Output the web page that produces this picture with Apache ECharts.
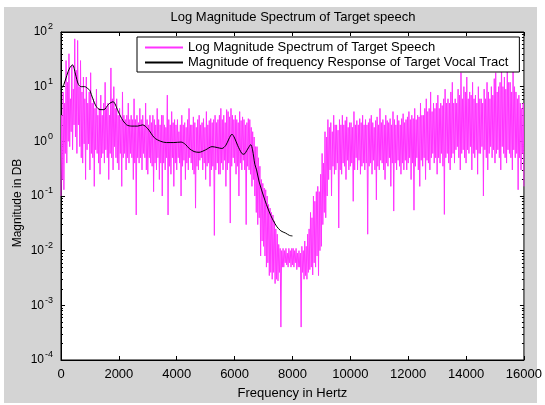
<!DOCTYPE html>
<html>
<head>
<meta charset="utf-8">
<title>Log Magnitude Spectrum of Target speech</title>
<script src="https://cdn.jsdelivr.net/npm/echarts@6/dist/echarts.min.js"></script>
<style>
    html, body { margin: 0; padding: 0; background: #fff; }
    #chart { width: 545px; height: 405px; }
</style>
</head>
<body>
<div id="chart"></div>
<script>
    var FREQ_STEP = 25;
    var spec0to4k = [
        0.1, 3, 0.2, 8, 0.13, 5, 0.6, 30, 0.4, 12,
        1, 40, 0.8, 6, 1.5, 25, 0.7, 9, 2, 75,
        1.2, 20, 0.6, 70, 2, 10, 0.8, 30, 0.5, 8,
        0.4, 15, 0.9, 6, 0.2, 15, 0.7, 5, 0.9, 8,
        0.3, 18, 0.6, 5, 0.5, 6, 0.15, 4, 0.7, 9,
        0.6, 3, 0.4, 4, 0.25, 7, 0.5, 3, 0.6, 5,
        0.4, 12, 0.7, 4, 0.5, 5, 0.2, 3, 0.6, 22,
        0.5, 6, 0.3, 10, 0.8, 4, 0.5, 6, 0.4, 3,
        0.3, 4, 0.6, 2.5, 0.15, 8, 0.5, 3, 0.6, 2.5,
        0.3, 3, 0.5, 5, 0.4, 2.5, 0.6, 3, 0.5, 2.5,
        0.2, 6, 0.4, 2.5, 0.045, 3, 0.5, 2.2, 0.4, 4,
        0.5, 2.5, 0.3, 3, 0.6, 2, 0.5, 5, 0.3, 2.5,
        0.25, 2, 0.5, 3, 0.4, 2.2, 0.35, 3, 0.12, 2.5,
        0.4, 2, 0.3, 4, 0.5, 2.5, 0.2, 2, 0.4, 3,
        0.1, 3, 0.4, 2, 0.3, 1.8, 0.5, 7, 0.045, 2.5,
        0.35, 2, 0.25, 3.5, 0.5, 2.2, 0.15, 2.5, 0.4, 2
    ];
    var spec4kto8k = [
        0.3, 2.5, 0.5, 1.5, 0.4, 2, 0.1, 3, 0.35, 2,
        0.45, 2.2, 0.2, 1.8, 0.4, 2.5, 0.3, 4, 0.5, 2,
        0.4, 2, 0.3, 2.8, 0.25, 2.2, 0.06, 1.8, 0.35, 2.5,
        0.3, 3, 0.45, 2, 0.5, 2.2, 0.3, 2.6, 0.4, 1.8,
        0.2, 3.5, 0.35, 2, 0.4, 2.4, 0.15, 2.6, 0.3, 2.2,
        0.35, 2.5, 0.019, 3, 0.3, 2.2, 0.4, 2.5, 0.25, 3,
        0.25, 4, 0.4, 2.5, 0.3, 3, 0.45, 2.2, 0.15, 3.8,
        0.3, 3.5, 0.4, 2.8, 0.032, 4, 0.35, 3, 0.5, 2.5,
        0.4, 3, 0.25, 2.5, 0.35, 2.2, 0.1, 3.5, 0.4, 2.4,
        0.3, 2.8, 0.45, 2.5, 0.3, 2, 0.03, 2.2, 0.35, 2.6,
        0.3, 2.5, 0.25, 1.8, 0.15, 1.5, 0.2, 1.2, 0.1, 0.8,
        0.05, 0.8, 0.03, 0.5, 0.04, 0.35, 0.008, 0.2, 0.015, 0.17,
        0.012, 0.14, 0.008, 0.13, 0.005, 0.1, 0.006, 0.07, 0.0035, 0.06,
        0.004, 0.05, 0.003, 0.045, 0.004, 0.035, 0.0025, 0.025, 0.003, 0.02,
        0.0028, 0.013, 0.004, 0.011, 0.0004, 0.01, 0.005, 0.011, 0.005, 0.01,
        0.006, 0.011, 0.0055, 0.009, 0.005, 0.011, 0.006, 0.01, 0.005, 0.011
    ];
    var spec8kto12k = [
        0.0055, 0.011, 0.005, 0.01, 0.006, 0.011, 0.0045, 0.009, 0.005, 0.01,
        0.005, 0.009, 0.0004, 0.012, 0.004, 0.01, 0.003, 0.015, 0.0035, 0.012,
        0.003, 0.02, 0.004, 0.025, 0.0045, 0.05, 0.005, 0.04, 0.0036, 0.1,
        0.006, 0.08, 0.005, 0.12, 0.008, 0.15, 0.0035, 0.12, 0.01, 0.25,
        0.012, 0.6, 0.03, 0.4, 0.05, 1.5, 0.04, 1.2, 0.1, 2.5,
        0.2, 1.8, 0.3, 2.2, 0.1, 1.5, 0.35, 3, 0.25, 2,
        0.3, 2, 0.4, 1.6, 0.026, 2.5, 0.3, 2, 0.25, 3,
        0.4, 2, 0.35, 2.4, 0.2, 2.8, 0.45, 1.8, 0.3, 2.2,
        0.35, 2.2, 0.4, 1.8, 0.08, 3.5, 0.3, 2, 0.5, 2.4,
        0.3, 2, 0.45, 2.6, 0.25, 2.2, 0.35, 3, 0.4, 2,
        0.3, 2.5, 0.4, 2, 0.02, 2.2, 0.35, 2.6, 0.4, 3,
        0.25, 2.2, 0.45, 1.8, 0.3, 2.4, 0.085, 2.8, 0.35, 2,
        0.3, 4, 0.45, 2.2, 0.4, 2.5, 0.3, 2, 0.2, 3,
        0.4, 2.4, 0.35, 2.2, 0.5, 2.6, 0.15, 2, 0.4, 3.5,
        0.053, 2.5, 0.4, 2, 0.3, 3, 0.45, 2.4, 0.35, 2,
        0.25, 2.6, 0.4, 3.2, 0.3, 2.2, 0.45, 2.5, 0.3, 2.8
    ];
    var spec12kto16k = [
        0.4, 3.5, 0.5, 2.5, 0.2, 3, 0.4, 2.6, 0.055, 4,
        0.35, 2.5, 0.5, 3, 0.3, 2.8, 0.15, 5, 0.45, 3,
        0.35, 3, 0.5, 4, 0.2, 6, 0.45, 3.5, 0.4, 4,
        0.3, 8, 0.5, 3.5, 0.6, 5, 0.4, 4, 0.5, 5,
        0.25, 7, 0.5, 4, 0.4, 5, 0.6, 4.5, 0.35, 6,
        0.046, 9, 0.5, 5, 0.6, 6, 0.4, 5, 0.3, 8,
        0.5, 12, 0.6, 5, 0.4, 6, 0.7, 5, 0.8, 9,
        0.5, 7, 0.3, 18, 0.6, 6, 0.7, 10, 0.5, 8,
        0.4, 15, 0.7, 6, 0.6, 8, 0.8, 7, 0.3, 12,
        0.6, 6, 0.5, 7, 0.7, 5, 0.25, 10, 0.6, 6,
        0.6, 6, 0.8, 5, 0.1, 9, 0.7, 6, 0.5, 12,
        0.3, 8, 0.6, 6, 0.8, 10, 0.5, 7, 0.7, 14,
        0.4, 18, 0.6, 8, 0.7, 10, 0.5, 12, 0.3, 28,
        0.8, 10, 0.6, 15, 0.5, 9, 0.4, 30, 0.7, 12,
        0.6, 12, 0.5, 8, 0.3, 20, 0.7, 10, 0.5, 8,
        0.6, 6, 0.13, 7, 0.5, 5, 0.3, 4, 0.6, 5,
        0.15
    ];

    // vocal tract envelope
    var envFreq = [0, 100, 200, 300, 400, 500, 600, 700, 820, 950,
        1000, 1100, 1225, 1350, 1480, 1650, 1800, 1960, 2100, 2270,
        2450, 2650, 2820, 3000, 3230, 3450, 3640, 3900, 4150, 4300,
        4430, 4600, 4770, 5000, 5220, 5400, 5560, 5700, 5800, 5910,
        6000, 6110, 6250, 6320, 6450, 6560, 6620, 6700, 6760, 6850,
        7000, 7100, 7250, 7450, 7600, 7760, 7900, 8000];
    var envMag = [9, 11, 16, 22, 25, 17, 11, 10, 10, 9,
        8.5, 6, 4.3, 3.8, 3.8, 4.8, 5.3, 3.7, 2.6, 2.0,
        1.9, 1.9, 2.0, 1.7, 1.16, 1.0, 0.95, 0.95, 0.97, 0.88,
        0.74, 0.65, 0.63, 0.7, 0.8, 0.77, 0.74, 0.85, 1.1, 1.35,
        1.15, 0.83, 0.6, 0.58, 0.72, 0.87, 0.7, 0.38, 0.3, 0.18,
        0.1, 0.07, 0.044, 0.028, 0.023, 0.021, 0.019, 0.0186];

    var decadeTicks = [1e-4, 1e-3, 1e-2, 1e-1, 1, 10, 100];
    var minorTicks = [];
    decadeTicks.slice(0, -1).forEach(function (d) {
        for (var k = 2; k <= 9; k++) minorTicks.push(d * k);
    });

    var specMag = spec0to4k.concat(spec4kto8k, spec8kto12k, spec12kto16k);
    var specData = specMag.map(function (v, i) { return [i * FREQ_STEP, v]; });
    var envData = envFreq.map(function (f, i) { return [f, envMag[i]]; });

    var FONT = 'Liberation Sans, Arial, sans-serif';
    var chart = echarts.init(document.getElementById('chart'));

    function logAxis(pos, ticks, len, withLabel) {
        return {
            type: 'log', logBase: 10, min: 1e-4, max: 100, position: pos,
            axisLine: { show: withLabel, lineStyle: { color: '#000', width: 1 } },
            axisTick: { show: true, inside: true, length: len, customValues: ticks,
                lineStyle: { color: '#000', width: 1 } },
            axisLabel: withLabel ? {
                show: true, margin: 8, customValues: decadeTicks,
                fontFamily: FONT, color: '#000',
                formatter: function (v) {
                    return '{b|10}{s|' + Math.round(Math.log10(v)) + '}';
                },
                rich: {
                    b: { fontSize: 12, fontFamily: FONT, color: '#000' },
                    s: { fontSize: 9, fontFamily: FONT, color: '#000', padding: [0, 0, 10, 1] }
                }
            } : { show: false },
            splitLine: { show: false }
        };
    }

    function xAxis(pos, withLabel) {
        return {
            type: 'value', min: 0, max: 16000, interval: 2000, position: pos,
            axisLine: { show: true, onZero: false, lineStyle: { color: '#000', width: 1 } },
            axisTick: { show: true, inside: true, length: 4, lineStyle: { color: '#000' } },
            axisLabel: { show: withLabel, margin: 8, fontSize: 13, fontFamily: FONT, color: '#000',
                formatter: function (v) { return String(v); } },
            splitLine: { show: false }
        };
    }

    var xBottom = xAxis('bottom', true);
    xBottom.name = 'Frequency in Hertz';
    xBottom.nameLocation = 'middle';
    xBottom.nameGap = 27;
    xBottom.nameTextStyle = { fontSize: 13, fontFamily: FONT, color: '#000' };

    var yLeft = logAxis('left', decadeTicks, 4, true);
    yLeft.name = 'Magnitude in DB';
    yLeft.nameLocation = 'middle';
    yLeft.nameGap = 37;
    yLeft.nameMoveOverlap = false;
    yLeft.nameTextStyle = { fontSize: 12, fontFamily: FONT, color: '#000', padding: [0, 14, 0, 0] };

    chart.setOption({
        animation: false,
        backgroundColor: '#fff',
        graphic: [{
            type: 'rect', z: -100, silent: true,
            shape: { x: 4, y: 7, width: 533, height: 396 },
            style: { fill: '#d4d4d4' }
        }],
        title: {
            text: 'Log Magnitude Spectrum of Target speech',
            left: 293, top: 11, padding: 0, textAlign: 'center',
            textStyle: { fontSize: 13, fontWeight: 'normal', fontFamily: FONT, color: '#000' }
        },
        legend: {
            orient: 'vertical', left: 137, top: 37,
            padding: [4, 11, 3, 7], itemGap: 2, itemWidth: 38, itemHeight: 14,
            backgroundColor: '#fff', borderColor: '#000', borderWidth: 1, borderRadius: 0,
            itemStyle: { opacity: 0 },
            textStyle: { fontSize: 13, fontFamily: FONT, color: '#000' },
            data: ['Log Magnitude Spectrum of Target Speech', 'Magnitude of frequency Response of Target Vocal Tract']
        },
        grid: {
            left: 61, top: 32, right: 18, bottom: 38,
            show: true, backgroundColor: '#fff', borderColor: '#000', borderWidth: 1
        },
        xAxis: [xBottom, xAxis('top', false)],
        yAxis: [
            yLeft,
            logAxis('left', minorTicks, 2, false),
            logAxis('right', decadeTicks, 4, false),
            logAxis('right', minorTicks, 2, false)
        ],
        series: [
            {
                name: 'Log Magnitude Spectrum of Target Speech',
                type: 'line', symbol: 'none', sampling: false,
                lineStyle: { color: '#ff33ff', width: 1 },
                itemStyle: { color: '#ff33ff' },
                data: specData
            },
            {
                name: 'Magnitude of frequency Response of Target Vocal Tract',
                type: 'line', symbol: 'none', smooth: 0.3,
                lineStyle: { color: '#000', width: 1 },
                itemStyle: { color: '#000' },
                data: envData
            }
        ]
    });
</script>
</body>
</html>
